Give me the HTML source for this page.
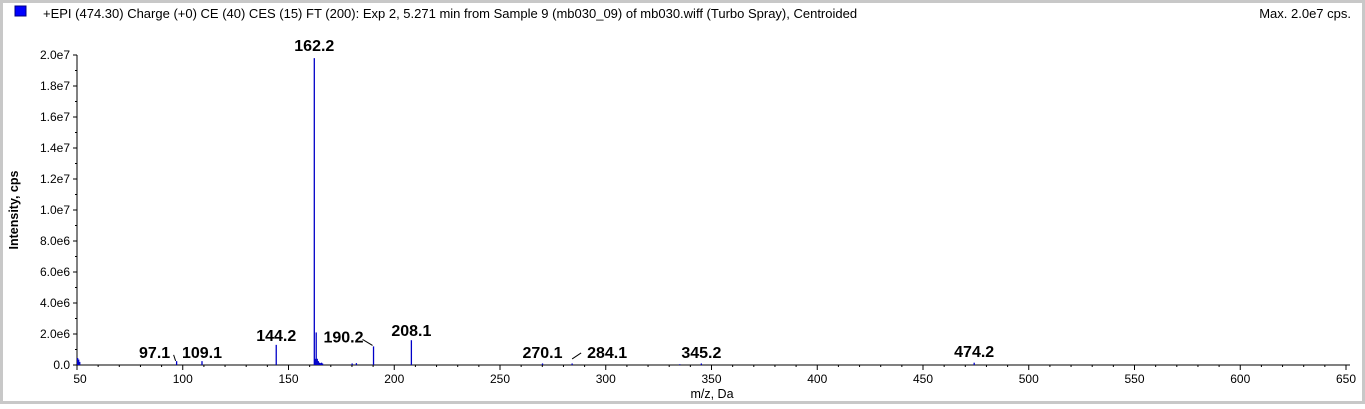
<!DOCTYPE html>
<html><head><meta charset="utf-8"><style>
body{margin:0;width:1365px;height:404px;background:#fff;overflow:hidden;font-family:"Liberation Sans",Arial,sans-serif}
</style></head><body>
<svg width="1365" height="404" xmlns="http://www.w3.org/2000/svg">
<rect x="0" y="0" width="1365" height="404" fill="#fff"/>
<rect x="0" y="0" width="1365" height="3" fill="#c8c8c8"/>
<rect x="0" y="0" width="3" height="404" fill="#c8c8c8"/>
<rect x="1362" y="0" width="3" height="404" fill="#c8c8c8"/>
<rect x="0" y="401" width="1365" height="3" fill="#c8c8c8"/>
<rect x="15" y="6" width="11" height="10" fill="#0000ff" stroke="#000080"/>
<text x="43" y="18" font-size="13" fill="#000">+EPI (474.30) Charge (+0) CE (40) CES (15) FT (200): Exp 2, 5.271 min from Sample 9 (mb030_09) of mb030.wiff (Turbo Spray), Centroided</text>
<text x="1351" y="18" font-size="13" text-anchor="end">Max. 2.0e7 cps.</text>
<text transform="translate(18,210) rotate(-90)" font-size="12.5" font-weight="bold" text-anchor="middle">Intensity, cps</text>
<text x="712" y="398" font-size="12.5" text-anchor="middle">m/z, Da</text>
<g id="axes"></g>
<g id="marks"></g>
<g id="labels"></g>
</svg>
<script>
const peakMz=[50.3,50.8,51.3,97.1,109.1,144.2,162.2,162.6,163.1,163.6,164.1,164.6,165.1,165.6,166.1,180.1,182.1,190.2,208.1,270.1,284.1,335.0,345.2,474.2];
const peakInt=[4.5e5,3.5e5,2e5,2.5e5,2.5e5,1.3e6,1.98e7,4e5,2.1e6,4e5,2.5e5,1.5e5,1.2e5,1.5e5,1e5,1e5,1.2e5,1.2e6,1.6e6,1e5,1e5,5e4,1e5,1.5e5];
const labelMz=[97.1,109.1,144.2,162.2,190.2,208.1,270.1,284.1,345.2,474.2];
const labelText=["97.1","109.1","144.2","162.2","190.2","208.1","270.1","284.1","345.2","474.2"];
const labelInt=[2e5,2e5,1.3e6,2.0e7,1.2e6,1.6e6,2e5,2e5,2e5,2.6e5];
const labelShift=[-22,0,0,0,-30,0,0,35,0,0];
const xTicks=[50,100,150,200,250,300,350,400,450,500,550,600,650];
const yTicks=[0,2e6,4e6,6e6,8e6,1e7,1.2e7,1.4e7,1.6e7,1.8e7,2e7];
const yTickLabels=["0.0","2.0e6","4.0e6","6.0e6","8.0e6","1.0e7","1.2e7","1.4e7","1.6e7","1.8e7","2.0e7"];
const NS="http://www.w3.org/2000/svg";
const X0=77,X1=1346,Y0=365,Y1=55;
const xs=v=>X0+(v-50)/600*(X1-X0);
const ys=v=>Y0-v/2e7*(Y0-Y1);
function mk(t,a,p){const e=document.createElementNS(NS,t);for(const k in a)e.setAttribute(k,a[k]);p.appendChild(e);return e;}
const ax=document.getElementById('axes'),mg=document.getElementById('marks'),lg=document.getElementById('labels');
let l=mk('line',{x1:X0,y1:Y1,x2:X0,y2:Y0,stroke:'#000'},ax);


l=mk('line',{x1:X0,y1:Y0,x2:1350,y2:Y0,stroke:'#000'},ax);


yTicks.forEach((v,i)=>{
 mk('line',{x1:X0-4,y1:ys(v),x2:X0,y2:ys(v),stroke:'#000'},ax);
 if(i<yTicks.length-1)mk('line',{x1:X0-2,y1:ys(v+1e6),x2:X0,y2:ys(v+1e6),stroke:'#000'},ax);
 const t=mk('text',{x:X0-7,y:ys(v)+4,'font-size':12,'text-anchor':'end'},ax);t.textContent=yTickLabels[i];
 
 
});
xTicks.forEach((v,i)=>{
 mk('line',{x1:xs(v),y1:Y0,x2:xs(v),y2:Y0+5,stroke:'#000'},ax);
 for(let k=10;k<50&&i<xTicks.length-1;k+=10)mk('line',{x1:xs(v+k),y1:Y0,x2:xs(v+k),y2:Y0+2,stroke:'#000'},ax);
 const t=mk('text',{x:xs(v)+(i==0?3:0),y:Y0+18,'font-size':12,'text-anchor':'middle'},ax);t.textContent=v;
 
 
});
peakMz.forEach((m,i)=>{
 const b=mk('line',{x1:xs(m),y1:Y0,x2:xs(m),y2:ys(peakInt[i]),stroke:'#0000c8','stroke-width':1.3},mg);
 
 
});
labelMz.forEach((m,i)=>{
 const sh=labelShift[i];
 const y=ys(labelInt[i])-4;
 const t=mk('text',{x:xs(m)+sh,y:y,'font-size':16,'font-weight':'bold','text-anchor':'middle'},lg);
 t.textContent=labelText[i];
 
 
 if(sh<0)mk('line',{x1:xs(m)+sh+19,y1:y-3,x2:xs(m)-1,y2:y+3,stroke:'#000'},lg);
 if(sh>0)mk('line',{x1:xs(m),y1:y+1,x2:xs(m)+sh-26,y2:y-5,stroke:'#000'},lg);
});
</script>
</body></html>
